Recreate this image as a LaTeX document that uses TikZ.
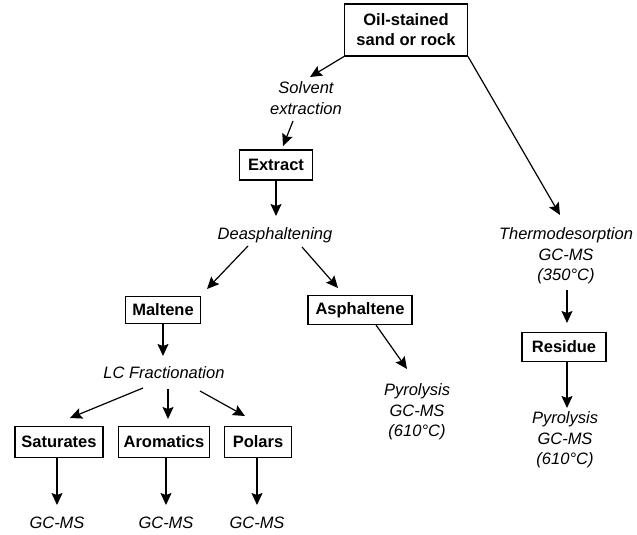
\documentclass[tikz,border=0pt]{standalone}
\usepackage{fontspec}
\setmainfont{Liberation Sans}
\usetikzlibrary{arrows.meta}
\begin{document}
\begin{tikzpicture}[x=1pt,y=-1pt,
  every node/.style={font=\fontsize{16.5}{20}\selectfont},
  box/.style={draw, line width=1.1pt, font=\fontsize{16.5}{20}\selectfont\bfseries, inner sep=0pt, align=center},
  lbl/.style={font=\fontsize{16.5}{20.5}\selectfont\itshape, align=center, inner sep=0pt},
  arr/.style={line width=1.2pt, -{Stealth[length=12pt,width=11pt,inset=2pt]}}]
\useasboundingbox (0,0) rectangle (637,535);
% boxes
\node[box, minimum width=123pt, minimum height=52pt] (oil) at (406,30) {Oil-stained\\sand or rock};
\node[box, minimum width=73pt, minimum height=30pt] (extract) at (276,165) {Extract};
\node[box, minimum width=75pt, minimum height=27pt] (maltene) at (163,310) {Maltene};
\node[box, minimum width=104pt, minimum height=29pt] (asph) at (360,310) {Asphaltene};
\node[box, minimum width=88pt, minimum height=31pt] (sat) at (59,442) {Saturates};
\node[box, minimum width=91pt, minimum height=31pt] (arom) at (164,442) {Aromatics};
\node[box, minimum width=67pt, minimum height=31pt] (polars) at (258,442) {Polars};
\node[box, minimum width=84pt, minimum height=29pt] (residue) at (564,347) {Residue};
% labels
\node[lbl] (solv) at (306,98) {Solvent\\extraction};
\node[lbl] (deas) at (275,235) {Deasphaltening};
\node[lbl] (lc) at (164,373) {LC Fractionation};
\node[lbl] (thermo) at (566,256) {Thermodesorption\\GC-MS\\(350°C)};
\node[lbl] (pyro1) at (417,412) {Pyrolysis\\GC-MS\\(610°C)};
\node[lbl] (pyro2) at (565,440) {Pyrolysis\\GC-MS\\(610°C)};
\node[lbl] (gc1) at (57,523) {GC-MS};
\node[lbl] (gc2) at (166,523) {GC-MS};
\node[lbl] (gc3) at (257,523) {GC-MS};
% arrow end points
\coordinate (a1) at (310,77);
\coordinate (s2) at (293,121); \coordinate (a2) at (283,146);
\coordinate (a3) at (276,216);
\coordinate (s4) at (248,246); \coordinate (a4) at (207,289);
\coordinate (s5) at (302,247); \coordinate (a5) at (338,288);
\coordinate (a6) at (163,356);
\coordinate (s7) at (143,388); \coordinate (a7) at (70,418);
\coordinate (s8) at (168,389); \coordinate (a8) at (168,419);
\coordinate (s9) at (200,391); \coordinate (a9) at (245,416);
\coordinate (a10) at (57,505);
\coordinate (a11) at (166,505);
\coordinate (a12) at (257,505);
\coordinate (s13) at (376,325); \coordinate (a13) at (407,369);
\coordinate (a14) at (560,215);
\coordinate (s15) at (567,290); \coordinate (a15) at (567,323);
\coordinate (a16) at (567,408);
% connectors
\draw[arr] (oil.south west) -- (a1);
\draw[arr] (s2) -- (a2);
\draw[arr] (extract.south) -- (a3);
\draw[arr] (s4) -- (a4);
\draw[arr] (s5) -- (a5);
\draw[arr] (maltene.south) -- (a6);
\draw[arr] (s7) -- (a7);
\draw[arr] (s8) -- (a8);
\draw[arr] (s9) -- (a9);
\draw[arr] (sat.south -| a10) -- (a10);
\draw[arr] (arom.south -| a11) -- (a11);
\draw[arr] (polars.south -| a12) -- (a12);
\draw[arr] (s13) -- (a13);
\draw[arr] (oil.south east) -- (a14);
\draw[arr] (s15) -- (a15);
\draw[arr] (residue.south -| a16) -- (a16);
\end{tikzpicture}
\end{document}
